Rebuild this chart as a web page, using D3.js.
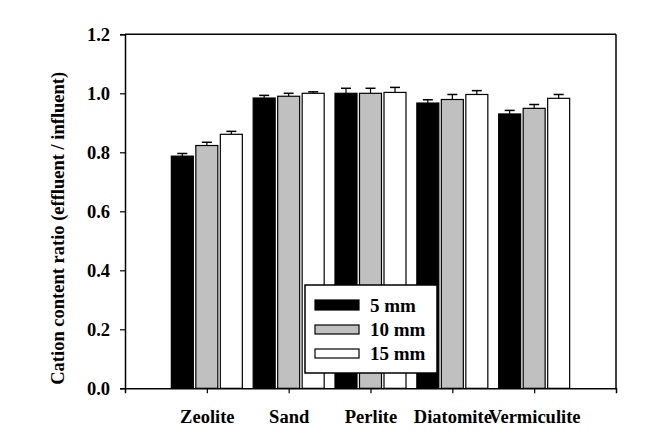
<!DOCTYPE html>
<html>
<head>
<meta charset="utf-8">
<script src="https://cdn.jsdelivr.net/npm/d3@7"></script>
<style>
  html, body { margin: 0; padding: 0; background: #fff; }
  svg { display: block; }
  text { font-family: "Liberation Serif", "Times New Roman", serif; font-weight: bold; fill: #000; }
</style>
</head>
<body>
<svg id="chart" width="654" height="435"></svg>
<script>
// ---- data ----
const categories = ["Zeolite", "Sand", "Perlite", "Diatomite", "Vermiculite"];
const seriesNames = ["5 mm", "10 mm", "15 mm"];
const values5  = [0.787, 0.984, 1.000, 0.967, 0.930];
const values10 = [0.823, 0.990, 1.000, 0.979, 0.949];
const values15 = [0.861, 1.000, 1.003, 0.996, 0.983];
const err5  = [0.009, 0.009, 0.017, 0.011, 0.012];
const err10 = [0.011, 0.010, 0.017, 0.017, 0.013];
const err15 = [0.010, 0.005, 0.017, 0.013, 0.013];
const yTicks = [0.0, 0.2, 0.4, 0.6, 0.8, 1.0, 1.2];
const seriesColors = ["#000000", "#c0c0c0", "#ffffff"];

const seriesValues = [values5, values10, values15];
const seriesErr = [err5, err10, err15];

const svg = d3.select("#chart");
const mLeft = 125, mRight = 616, mTop = 34.3, mBottom = 388.3;

const x = d3.scaleLinear().domain([0, categories.length + 1]).range([mLeft, mRight]);
const y = d3.scaleLinear().domain([0, 1.2]).range([mBottom, mTop]);
const barW = 23, barStep = 24.5;

// bars
const g = svg.append("g");
seriesNames.forEach((s, si) => {
  categories.forEach((c, ci) => {
    const cx = x(ci + 1) + (si - 1) * barStep;
    const v = seriesValues[si][ci];
    const e = seriesErr[si][ci];
    g.append("line")
      .attr("x1", cx).attr("x2", cx)
      .attr("y1", y(v)).attr("y2", y(v + e))
      .attr("stroke", "#000").attr("stroke-width", 1.2);
    g.append("line")
      .attr("x1", cx - 5).attr("x2", cx + 5)
      .attr("y1", y(v + e)).attr("y2", y(v + e))
      .attr("stroke", "#000").attr("stroke-width", 1.5);
    g.append("rect")
      .attr("x", cx - barW / 2 + 0.5)
      .attr("y", y(v))
      .attr("width", barW - 1)
      .attr("height", y(0) - y(v))
      .attr("fill", seriesColors[si])
      .attr("stroke", "#000").attr("stroke-width", 1.2);
  });
});

// frame (top & right)
svg.append("line").attr("x1", mLeft).attr("x2", mRight).attr("y1", mTop).attr("y2", mTop)
  .attr("stroke", "#000").attr("stroke-width", 1.5);
svg.append("line").attr("x1", mRight).attr("x2", mRight).attr("y1", mTop).attr("y2", mBottom)
  .attr("stroke", "#000").attr("stroke-width", 1.5);

// y axis
const yAxis = d3.axisLeft(y).tickValues(yTicks).tickFormat(d3.format(".1f")).tickSizeOuter(0).tickSize(5).tickPadding(10);
const ya = svg.append("g").attr("transform", `translate(${mLeft},0)`).call(yAxis);
ya.select(".domain").attr("stroke-width", 1.5);
ya.selectAll(".tick line").attr("stroke-width", 1.2);
ya.selectAll("text").style("font-size", "18.5px").style("font-family", "Liberation Serif").style("font-weight", "bold");

// x axis
const xAxis = d3.axisBottom(x).tickValues(d3.range(1, categories.length + 1))
  .tickFormat(d => categories[d - 1]).tickSizeOuter(0).tickSize(5).tickPadding(17);
const xa = svg.append("g").attr("transform", `translate(0,${mBottom})`).call(xAxis);
xa.select(".domain").attr("stroke-width", 1.5);
xa.selectAll(".tick line").attr("stroke-width", 1.2);
xa.selectAll("text").style("font-size", "18.5px").style("font-family", "Liberation Serif").style("font-weight", "bold");

// y label
svg.append("text")
  .attr("transform", `translate(64, ${(mTop + mBottom) / 2 + 17}) rotate(-90)`)
  .attr("text-anchor", "middle")
  .style("font-size", "18.5px")
  .text("Cation content ratio (effluent / influent)");

// legend
const lg = svg.append("g");
lg.append("rect").attr("x", 305).attr("y", 285).attr("width", 132).attr("height", 88)
  .attr("fill", "#fff").attr("stroke", "#000").attr("stroke-width", 1.5);
seriesNames.forEach((s, i) => {
  const ly = 300 + i * 24;
  lg.append("rect").attr("x", 315).attr("y", ly + (i === 0 ? 0 : 1))
    .attr("width", 44).attr("height", i === 0 ? 10 : 9)
    .attr("fill", seriesColors[i]).attr("stroke", "#000").attr("stroke-width", 1.2);
  lg.append("text").attr("x", 370).attr("y", ly + 12).style("font-size", "19px").text(s);
});
</script>
</body>
</html>
